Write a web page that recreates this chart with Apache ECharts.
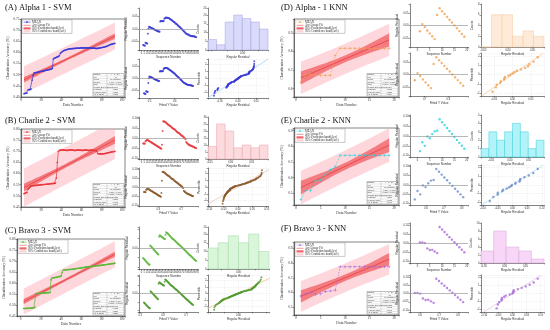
<!DOCTYPE html>
<html><head><meta charset="utf-8">
<script src="https://cdn.jsdelivr.net/npm/echarts@6.0.0/dist/echarts.min.js"></script>
<style>html,body{margin:0;padding:0;background:#fff;}#c{width:550px;height:330px;}</style>
</head><body><div id="c"></div>
<script>
// ---------------- data ----------------
const panelTitles = ['(A) Alpha 1 - SVM', '(B) Charlie 2 - SVM', '(C) Bravo 3 - SVM', '(D) Alpha - 1 KNN', '(E) Charlie 2 - KNN', '(F) Bravo 3 - KNN'];
const dataNumberStartSvm = 3;
const dataNumberStartKnn = 1;
const accAlphaSvm = [0.415,0.416,0.417,0.418, 0.432,0.433,0.434,0.436, 0.476, 0.498,
  0.508,0.509,0.510,0.511,0.512,0.513,0.514,0.515,0.516,0.517,0.518,0.519,0.520,0.521,0.522,0.523,0.524,0.526,0.528,
  0.570, 0.574,0.576,0.578,0.580,0.582,0.585, 0.596,0.600,0.604,0.607,0.609,0.611,0.612,
  0.614,0.615,0.616,0.616,0.617,0.617,0.618,0.618,0.618,0.619,0.619,0.619,0.619,0.620,0.620,0.620,0.620,0.620,0.620,0.620,0.620,0.620,0.620,0.620,0.619,0.619,0.619,0.619,0.618,0.618,
  0.618,0.619,0.620,0.621,0.622,0.623,0.624,0.625,0.626,0.628, 0.630,0.632,0.634,0.636,0.637,0.638,0.640,0.641];
const accCharlieSvm = [0.510,0.512,0.514,0.515, 0.530,0.535,0.540,
  0.545,0.545,0.546,0.546,0.547,0.547,0.548,0.548,0.549,0.549,0.550,0.550,0.551,0.551,0.552,0.552,0.553,0.553,0.554,0.554,0.555,0.555,0.556,0.556,0.557,
  0.580, 0.650, 0.700,
  0.704,0.705,0.705,0.706,0.706,0.705,0.705,0.704,0.704,0.705,0.705,0.706,0.706,0.705,0.705,0.704,0.704,0.705,0.706,0.706,0.705,0.705,0.704,0.704,0.705,0.705,0.706,0.705,0.705,0.704,0.704,0.705,0.705,0.705,0.704,0.704,0.703,0.702,
  0.690,0.689,0.688,0.688,0.688,0.688,0.689,0.690,0.691,0.692, 0.693,0.694,0.695,0.696,0.697,0.698,0.699,0.700];
const accBravoSvm = [0.484,0.484,0.485,0.485,0.485,0.485,0.486,0.486,0.486,0.487,0.487,0.490,
  0.552,0.552,0.553,0.553,0.553,0.554,0.554,0.554,0.555,0.555,0.555,0.556,0.556,0.556,0.557,
  0.615, 0.622,0.623,0.624,0.625,0.626,0.627,0.628,0.629,0.630,0.632,
  0.648, 0.658,0.659,0.660,0.660,0.661,0.661,0.661,0.662,0.662,0.662,0.663,0.663,
  0.665,0.666,0.666,0.667,0.668,0.668,0.669,0.670,0.670,0.671,0.672,0.672,0.673,0.674,0.674,0.675,0.676,0.676,0.677,0.677,0.678,0.678,
  0.679,0.679,0.680,0.680,0.681,0.682,0.682,0.683,0.684,0.684,0.685,0.686,0.686,0.687,0.688,0.688,0.689,0.690];
const accAlphaKnn = [0.635,0.675,0.675,0.672,0.672,0.672,0.672,0.780,0.818,0.818,0.818,0.818,0.818,0.818,0.818,0.818,0.818,0.818,0.818];
const accCharlieKnn = [0.460,0.520,0.517,0.580,0.586,0.622,0.651,0.669,0.743,0.743,0.743,0.743,0.743,0.743,0.743,0.743,0.743,0.743,0.743];
const accBravoKnn = [0.575,0.590,0.600,0.585,0.590,0.605,0.610,0.615,0.775,0.775,0.775,0.775,0.775,0.775,0.775,0.775,0.775,0.775,0.775];
const histAlphaSvm = [6,3,16,20,18,16,12];
const histCharlieSvm = [9,25,20,8,10,8,10];
const histBravoSvm = [12,15,19,15,20,10];
const histAlphaKnn = [0,6,6,2,3,2];
const histCharlieKnn = [1,3,2,3,4,3,1,2];
const histBravoKnn = [3,8,4,3,1];
const legendLabels = ['MEAN', 'Acc Linear Fit', '95% Prediction band(Acc)', '95% Confidence band(Acc)'];
const tableLabels = ['Equation', 'Plot', 'Weight', 'Intercept', 'Slope', 'Residual Sum of Squares', "Pearson's r", 'R-Square (COD)', 'Adj. R-Square'];

// ---------------- styles / layout ----------------
const panels = [
  {title: panelTitles[0], acc: accAlphaSvm, start: dataNumberStartSvm, hist: histAlphaSvm, knn: false, color: '#3b3bd6', blColor: '#3b3bd6', histFill: 'rgba(205,205,248,0.75)', histStroke: '#a4a4e2', refColor: '#b9dcef'},
  {title: panelTitles[1], acc: accCharlieSvm, start: dataNumberStartSvm, hist: histCharlieSvm, knn: false, color: '#e8383d', blColor: '#8b5a2b', histFill: 'rgba(250,210,214,0.8)', histStroke: '#eca2a9', refColor: '#ecd0d0'},
  {title: panelTitles[2], acc: accBravoSvm, start: dataNumberStartSvm, hist: histBravoSvm, knn: false, color: '#5cb83a', blColor: '#4f9a2e', histFill: 'rgba(212,244,212,0.85)', histStroke: '#a2d6a2', refColor: '#f2cfa8'},
  {title: panelTitles[3], acc: accAlphaKnn, start: dataNumberStartKnn, hist: histAlphaKnn, knn: true, color: '#f0a050', blColor: '#f0a050', histFill: 'rgba(253,232,212,0.9)', histStroke: '#f5c99c', refColor: '#f5d5b5'},
  {title: panelTitles[4], acc: accCharlieKnn, start: dataNumberStartKnn, hist: histCharlieKnn, knn: true, color: '#26d2df', blColor: '#6c8cc8', histFill: 'rgba(168,242,248,0.9)', histStroke: '#3ccfdb', refColor: '#c2e9f2'},
  {title: panelTitles[5], acc: accBravoKnn, start: dataNumberStartKnn, hist: histBravoKnn, knn: true, color: '#a868d8', blColor: '#a868d8', histFill: 'rgba(246,210,246,0.9)', histStroke: '#d9a6d9', refColor: '#ead2ea'}
];
const layouts = [
  {main: [21, 19, 104, 78], tl: [139, 8, 59, 42], tr: [208, 8, 60, 42], bl: [139, 59, 59, 39], br: [208, 59, 60, 39], title: [5, 7.5], xr: [0, 103], yr: [0.40, 0.75]},
  {main: [21, 129, 104, 78], tl: [139, 117, 59, 42], tr: [208, 117, 60, 42], bl: [139, 168, 59, 38], br: [208, 168, 60, 38], title: [5, 120.5], xr: [0, 103], yr: [0.45, 0.80]},
  {main: [17, 239, 108, 77], tl: [139, 227, 59, 42], tr: [208, 227, 61, 42], bl: [139, 275, 59, 37], br: [208, 275, 61, 37], title: [5, 231], xr: [-3.6, 103], yr: [0.45, 0.80]},
  {main: [294, 19, 105, 78], tl: [410, 4, 58, 43], tr: [481, 4, 63, 43], bl: [410, 53, 58, 43], br: [481, 53, 63, 43], title: [281, 7.5], xr: [-0.4, 21], yr: [0.555, 0.976]},
  {main: [294, 128, 105, 77], tl: [410, 115, 58, 42], tr: [481, 115, 63, 42], bl: [410, 165, 58, 40], br: [481, 165, 63, 40], title: [281, 120.5], xr: [-0.4, 21], yr: [0.426, 0.917]},
  {main: [294, 242, 105, 73], tl: [410, 223, 58, 40], tr: [481, 223, 63, 40], bl: [410, 275, 58, 37], br: [481, 275, 63, 37], title: [281, 228.5], xr: [-0.4, 21], yr: [0.445, 0.945]}
];
const predFill = 'rgba(250,172,182,0.48)';
const confFill = 'rgba(240,92,96,0.75)';
const fitColor = '#e2282e';
const serif = 'Liberation Serif';
const sans = 'Liberation Sans';

// ---------------- statistics helpers ----------------
function tval(df) { const z = 1.959964; return z + (z*z*z + z) / (4*df) + (5*Math.pow(z,5) + 16*z*z*z + 3*z) / (96*df*df); }
function linfit(xs, ys) {
  const n = xs.length;
  const mx = xs.reduce((a,b)=>a+b,0)/n, my = ys.reduce((a,b)=>a+b,0)/n;
  let sxx = 0, sxy = 0, syy = 0;
  for (let i = 0; i < n; i++) { sxx += (xs[i]-mx)**2; sxy += (xs[i]-mx)*(ys[i]-my); syy += (ys[i]-my)**2; }
  const b = sxy/sxx, a = my - b*mx;
  const fitted = xs.map(x => a + b*x);
  const res = ys.map((y,i) => y - fitted[i]);
  const sse = res.reduce((s,r)=>s+r*r,0);
  const s = Math.sqrt(sse/(n-2));
  const t = tval(n-2);
  const conf = xs.map(x => t*s*Math.sqrt(1/n + (x-mx)**2/sxx));
  const pred = xs.map(x => t*s*Math.sqrt(1 + 1/n + (x-mx)**2/sxx));
  const r = sxy/Math.sqrt(sxx*syy);
  return {a, b, fitted, res, sse, s, conf, pred, r, r2: r*r, adj: 1 - (1-r*r)*(n-1)/(n-2),
          sea: s*Math.sqrt(1/n + mx*mx/sxx), seb: s/Math.sqrt(sxx)};
}
function invNorm(p) {
  const a=[-3.969683028665376e+01,2.209460984245205e+02,-2.759285104469687e+02,1.383577518672690e+02,-3.066479806614716e+01,2.506628277459239e+00];
  const b=[-5.447609879822406e+01,1.615858368580409e+02,-1.556989798598866e+02,6.680131188771972e+01,-1.328068155288572e+01];
  const c=[-7.784894002430293e-03,-3.223964580411365e-01,-2.400758277161838e+00,-2.549732539343734e+00,4.374664141464968e+00,2.938163982698783e+00];
  const d=[7.784695709041462e-03,3.224671290700398e-01,2.445134137142996e+00,3.754408661907416e+00];
  const pl = 0.02425; let q, r;
  if (p < pl) { q = Math.sqrt(-2*Math.log(p)); return (((((c[0]*q+c[1])*q+c[2])*q+c[3])*q+c[4])*q+c[5])/((((d[0]*q+d[1])*q+d[2])*q+d[3])*q+1); }
  if (p <= 1-pl) { q = p-0.5; r = q*q; return (((((a[0]*r+a[1])*r+a[2])*r+a[3])*r+a[4])*r+a[5])*q/(((((b[0]*r+b[1])*r+b[2])*r+b[3])*r+b[4])*r+1); }
  q = Math.sqrt(-2*Math.log(1-p)); return -(((((c[0]*q+c[1])*q+c[2])*q+c[3])*q+c[4])*q+c[5])/((((d[0]*q+d[1])*q+d[2])*q+d[3])*q+1);
}
// label only values that sit on a multiple of step
function stepLabel(step, dec) {
  return v => Math.abs(v / step - Math.round(v / step)) < 1e-6 ? (dec == null ? String(Math.round(v)) : v.toFixed(dec)) : '';
}

// ---------------- option building ----------------
function axisBase(fs, font) {
  return {
    axisLine: {show: true, onZero: false, lineStyle: {color: '#333', width: 0.6}},
    axisTick: {show: true, length: 1.4, lineStyle: {color: '#333', width: 0.5}},
    axisLabel: {fontSize: fs, margin: 1.6, color: '#333', fontFamily: font},
    splitLine: {show: false},
    nameTextStyle: {fontSize: fs + 0.4, color: '#333', fontFamily: font},
    nameLocation: 'middle'
  };
}
const grids = [], xAxes = [], yAxes = [], series = [], graphics = [];
const plusSymbol = 'path://M4,0H6V4H10V6H6V10H4V6H0V4H4Z';

panels.forEach((P, p) => {
  const L = layouts[p];
  const xs = P.acc.map((_, i) => P.start + i);
  const F = linfit(xs, P.acc);
  const gi = p * 5;
  [L.main, L.tl, L.tr, L.bl, L.br].forEach((r, k) => {
    grids.push({left: r[0], top: r[1], width: r[2], height: r[3], show: k === 0, borderColor: '#333', borderWidth: 0.6, backgroundColor: 'rgba(0,0,0,0)'});
  });
  // ---- main axes
  xAxes.push(Object.assign(axisBase(3.4, serif), {gridIndex: gi, type: 'value', min: L.xr[0], max: L.xr[1],
    splitNumber: P.knn ? 4 : 5, name: 'Data Number', nameGap: 6.5}));
  xAxes[gi].axisLabel.formatter = stepLabel(P.knn ? 5 : 20, null);
  yAxes.push(Object.assign(axisBase(3.4, serif), {gridIndex: gi, type: 'value', min: L.yr[0], max: L.yr[1],
    splitNumber: P.knn ? 4 : 7, name: 'Classification Accuracy (%)', nameGap: 10}));
  yAxes[gi].axisLabel.formatter = stepLabel(P.knn ? 0.1 : 0.05, P.knn ? 1 : 2);

  // bands
  const bandData = (half) => xs.map((x, i) => [x, F.fitted[i] - half[i], F.fitted[i] + half[i]]);
  const bandSeries = (half, fill) => ({
    type: 'custom', xAxisIndex: gi, yAxisIndex: gi, clip: true, silent: true, z: 1,
    data: bandData(half), encode: {x: 0, y: [1, 2]},
    renderItem: (params, api) => {
      if (params.dataIndex !== 0) return null;
      const d = bandData(half);
      const pts = [];
      d.forEach(q => pts.push(api.coord([q[0], q[2]])));
      for (let i = d.length - 1; i >= 0; i--) pts.push(api.coord([d[i][0], d[i][1]]));
      return {type: 'polygon', shape: {points: pts}, style: {fill: fill}};
    }
  });
  series.push(bandSeries(F.pred, predFill));
  series.push(bandSeries(F.conf, confFill));
  series.push({type: 'line', xAxisIndex: gi, yAxisIndex: gi, data: xs.map((x, i) => [x, F.fitted[i]]), showSymbol: false,
    lineStyle: {color: fitColor, width: 0.6}, z: 3, silent: true});
  series.push({type: 'line', xAxisIndex: gi, yAxisIndex: gi, data: xs.map((x, i) => [x, P.acc[i]]),
    symbol: P.knn ? plusSymbol : 'circle', symbolSize: P.knn ? 2.8 : 1.7, showSymbol: true,
    itemStyle: {color: P.color}, lineStyle: {color: P.color, width: P.knn ? 0.6 : 0.7, type: P.knn ? [1.6, 1.2] : 'solid'}, z: 4, silent: true});

  // ---- residual vs order (TL)
  const maxAbs = Math.max(...F.res.map(Math.abs)) * 1.25;
  const resStep = maxAbs > 0.09 ? 0.05 : 0.05;
  const resAxisY = (g) => {
    const a = Object.assign(axisBase(2.6, sans), {gridIndex: g, type: 'value', min: -maxAbs, max: maxAbs, splitNumber: 4, name: 'Regular Residual', nameGap: 9});
    a.axisLabel.formatter = stepLabel(resStep, 2);
    return a;
  };
  const tlx = Object.assign(axisBase(2.6, sans), {gridIndex: gi + 1, type: 'value', min: P.knn ? -3 : -4, max: P.knn ? 20.5 : 96,
    splitNumber: P.knn ? 5 : 18, name: 'Sequence Number', nameGap: 5});
  tlx.axisLabel.formatter = stepLabel(P.knn ? 5 : 5, null);
  xAxes.push(tlx); yAxes.push(resAxisY(gi + 1));
  const zeroLine = {silent: true, symbol: ['none', 'none'], label: {show: false}, lineStyle: {color: '#999', width: 0.7, type: 'solid'}, data: [{yAxis: 0}]};
  series.push({type: 'scatter', xAxisIndex: gi + 1, yAxisIndex: gi + 1, data: xs.map((x, i) => [x, F.res[i]]),
    symbol: 'circle', symbolSize: P.knn ? 2.4 : 2, itemStyle: {color: P.color}, markLine: zeroLine, silent: true});

  // ---- histogram (TR)
  const rmin = Math.min(...F.res), rmax = Math.max(...F.res);
  const nb = P.hist.length, bw = (rmax - rmin) / nb * 1.04, b0 = rmin - bw * 0.02;
  const hx = Object.assign(axisBase(2.6, sans), {gridIndex: gi + 2, type: 'value', min: b0, max: b0 + nb * bw, splitNumber: 3, name: 'Regular Residual', nameGap: 5});
  hx.axisLabel.formatter = stepLabel(0.05, 2);
  const hy = Object.assign(axisBase(2.6, sans), {gridIndex: gi + 2, type: 'value', min: 0, max: Math.ceil(Math.max(...P.hist) * 1.2), name: 'Counts', nameGap: 6});
  xAxes.push(hx); yAxes.push(hy);
  const histData = P.hist.map((c, i) => [b0 + i * bw, b0 + (i + 1) * bw, c]);
  series.push({type: 'custom', xAxisIndex: gi + 2, yAxisIndex: gi + 2, data: histData, encode: {x: [0, 1], y: 2}, silent: true,
    renderItem: (params, api) => {
      const p0 = api.coord([api.value(0), 0]), p1 = api.coord([api.value(1), api.value(2)]);
      return {type: 'rect', shape: {x: p0[0], y: p1[1], width: p1[0] - p0[0], height: p0[1] - p1[1]},
        style: {fill: P.histFill, stroke: P.histStroke, lineWidth: 0.5}};
    }});

  // ---- residual vs fitted (BL)
  const fmin = Math.min(...F.fitted), fmax = Math.max(...F.fitted), fpad = (fmax - fmin) * 0.1;
  const blx = Object.assign(axisBase(2.6, sans), {gridIndex: gi + 3, type: 'value', min: fmin - fpad, max: fmax + fpad, splitNumber: 3, name: 'Fitted Y Value', nameGap: 5});
  blx.axisLabel.formatter = stepLabel(0.1, 1);
  xAxes.push(blx); yAxes.push(resAxisY(gi + 3));
  series.push({type: 'scatter', xAxisIndex: gi + 3, yAxisIndex: gi + 3, data: xs.map((x, i) => [F.fitted[i], F.res[i]]),
    symbol: 'circle', symbolSize: P.knn ? 2.4 : 2, itemStyle: {color: P.blColor}, markLine: zeroLine, silent: true});

  // ---- normal probability (BR)
  const sorted = F.res.slice().sort((u, v) => u - v);
  const n = sorted.length;
  const qq = sorted.map((r, i) => [r, invNorm((i + 1 - 0.375) / (n + 0.25))]);
  const zmax = P.knn ? 2.3 : 2.8;
  const sdr = Math.sqrt(F.sse / (n - 1));
  const brx = Object.assign(axisBase(2.6, sans), {gridIndex: gi + 4, type: 'value', min: -maxAbs, max: maxAbs, splitNumber: 4, name: 'Regular Residual', nameGap: 5});
  brx.axisLabel.formatter = stepLabel(0.05, 2);
  brx.splitLine = {show: true, lineStyle: {color: '#e4e4e4', width: 0.5, type: [1.5, 1]}};
  const bry = Object.assign(axisBase(2.6, sans), {gridIndex: gi + 4, type: 'value', min: -zmax, max: zmax, splitNumber: 6, name: 'Percentile', nameGap: 6});
  bry.axisLabel.formatter = stepLabel(1, null);
  bry.splitLine = {show: true, lineStyle: {color: '#e4e4e4', width: 0.5, type: [1.5, 1]}};
  xAxes.push(brx); yAxes.push(bry);
  series.push({type: 'line', xAxisIndex: gi + 4, yAxisIndex: gi + 4, data: [[-zmax * sdr, -zmax], [zmax * sdr, zmax]], showSymbol: false,
    lineStyle: {color: P.refColor, width: 1}, silent: true, z: 2});
  series.push({type: 'scatter', xAxisIndex: gi + 4, yAxisIndex: gi + 4, data: qq, symbol: 'circle', symbolSize: P.knn ? 2.4 : 2,
    itemStyle: {color: P.blColor}, silent: true, z: 3});

  // ---- title
  graphics.push({type: 'text', x: L.title[0], y: L.title[1], style: {text: P.title, fontSize: 8.5, fontFamily: serif, fill: '#111', verticalAlign: 'middle'}});
  // ---- legend
  const lw = 50, lh = 13.6, rowsY = [2.3, 5.5, 8.6, 11.6];
  const ch = [{type: 'rect', shape: {x: 0, y: 0, width: lw, height: lh}, style: {fill: '#fff', stroke: '#777', lineWidth: 0.4}}];
  ch.push({type: 'line', shape: {x1: 1.5, y1: rowsY[0], x2: 8.5, y2: rowsY[0]}, style: {stroke: P.color, lineWidth: 0.6, lineDash: P.knn ? [1.2, 0.8] : null}});
  ch.push({type: 'circle', shape: {cx: 5, cy: rowsY[0], r: 0.9}, style: {fill: P.color}});
  ch.push({type: 'line', shape: {x1: 1.5, y1: rowsY[1], x2: 8.5, y2: rowsY[1]}, style: {stroke: fitColor, lineWidth: 0.5}});
  ch.push({type: 'rect', shape: {x: 1.5, y: rowsY[2] - 1.1, width: 7, height: 2.2}, style: {fill: '#f06468'}});
  ch.push({type: 'rect', shape: {x: 1.5, y: rowsY[3] - 1.1, width: 7, height: 2.2}, style: {fill: '#fcd2d6'}});
  legendLabels.forEach((t, i) => ch.push({type: 'text', x: 10, y: rowsY[i], style: {text: t, fontSize: 3, fontFamily: serif, fill: '#222', verticalAlign: 'middle'}}));
  graphics.push({type: 'group', x: L.main[0] + 1, y: L.main[1] + 0.8, children: ch});
  // ---- stats table
  const tw = 31, th = 22.5, rh = th / tableLabels.length;
  const vals = ['y = a + b*x', 'Acc', 'No Weighting', F.a.toFixed(4) + ' \u00b1 ' + F.sea.toFixed(4), F.b.toFixed(5) + ' \u00b1 ' + F.seb.toFixed(5),
    F.sse.toFixed(4), F.r.toFixed(4), F.r2.toFixed(4), F.adj.toFixed(4)];
  const tc = [{type: 'rect', shape: {x: 0, y: 0, width: tw, height: th}, style: {fill: '#fff', stroke: '#666', lineWidth: 0.4}},
    {type: 'line', shape: {x1: tw * 0.45, y1: 0, x2: tw * 0.45, y2: th}, style: {stroke: '#888', lineWidth: 0.3}}];
  tableLabels.forEach((t, i) => {
    if (i > 0) tc.push({type: 'line', shape: {x1: 0, y1: i * rh, x2: tw, y2: i * rh}, style: {stroke: '#999', lineWidth: 0.25}});
    tc.push({type: 'text', x: 0.6, y: (i + 0.5) * rh, style: {text: t, fontSize: 1.7, fontFamily: sans, fill: '#333', verticalAlign: 'middle'}});
    tc.push({type: 'text', x: tw * 0.72, y: (i + 0.5) * rh, style: {text: vals[i], fontSize: 1.7, fontFamily: sans, fill: '#333', verticalAlign: 'middle', align: 'center'}});
  });
  graphics.push({type: 'group', x: L.main[0] + L.main[2] - tw - 1, y: L.main[1] + L.main[3] - th - 1, children: tc});
});

const chart = echarts.init(document.getElementById('c'), null, {renderer: 'canvas'});
chart.setOption({
  animation: false,
  backgroundColor: '#fff',
  textStyle: {fontFamily: serif},
  grid: grids, xAxis: xAxes, yAxis: yAxes, series: series, graphic: graphics
});
</script></body></html>
